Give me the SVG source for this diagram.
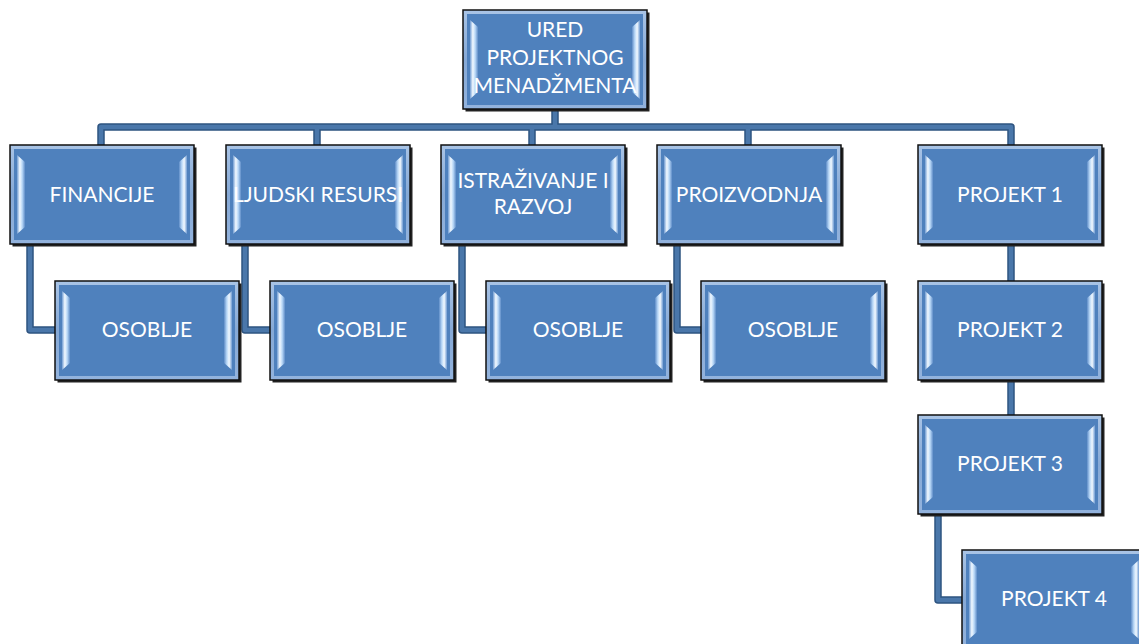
<svg xmlns="http://www.w3.org/2000/svg" xmlns:xlink="http://www.w3.org/1999/xlink" width="1139" height="644" viewBox="0 0 1139 644">
<style>
.lbl{font-family:Lato,"Liberation Sans",sans-serif;font-size:21px;fill:#ffffff;text-anchor:middle}
.cOut{fill:none;stroke:#2e5480;stroke-width:7.5;stroke-linejoin:round}
.cIn{fill:none;stroke:#4a77aa;stroke-width:4.5;stroke-linejoin:round}
</style>
<defs>
<linearGradient id="frame" x1="0" y1="0" x2="0" y2="1">
<stop offset="0" stop-color="#a9c4e6"/>
<stop offset="0.5" stop-color="#86a9d6"/>
<stop offset="1" stop-color="#93b3dd"/>
</linearGradient>
<linearGradient id="stripL" x1="0" y1="0" x2="1" y2="0">
<stop offset="0" stop-color="#6f9bd2"/>
<stop offset="0.35" stop-color="#f2f9ff"/>
<stop offset="0.65" stop-color="#b9d8f7"/>
<stop offset="1" stop-color="#5f8dc8"/>
</linearGradient>
<linearGradient id="stripR" x1="1" y1="0" x2="0" y2="0">
<stop offset="0" stop-color="#6f9bd2"/>
<stop offset="0.35" stop-color="#f2f9ff"/>
<stop offset="0.65" stop-color="#b9d8f7"/>
<stop offset="1" stop-color="#5f8dc8"/>
</linearGradient>
<g id="box">
<rect x="2.5" y="2.5" width="184" height="99" fill="#222222"/>
<rect x="0" y="0" width="184" height="99" fill="url(#frame)" stroke="#111111" stroke-width="1.5"/>
<rect x="4" y="4" width="176" height="91" fill="#4f81bd"/>
<polygon points="7,10 15,17 15,82 7,89" fill="url(#stripL)"/>
<polygon points="177,10 169,17 169,82 177,89" fill="url(#stripR)"/>
</g>
</defs>
<rect width="1139" height="644" fill="#ffffff"/>
<g id="connectors">
<path class="cOut" d="M555 108 V127 M101 145 V127 H1011 V145 M317 127 V145 M532 127 V145 M748 127 V145 M30 244 V330 H55 M245 244 V330 H270 M462 244 V330 H486 M677 244 V330 H701 M1011 244 V281 M1011 380 V415 M938 514 V600 H962"/>
<path class="cIn" d="M555 108 V127 M101 145 V127 H1011 V145 M317 127 V145 M532 127 V145 M748 127 V145 M30 244 V330 H55 M245 244 V330 H270 M462 244 V330 H486 M677 244 V330 H701 M1011 244 V281 M1011 380 V415 M938 514 V600 H962"/>
</g>
<g id="node-ured" transform="translate(463,10)">
<use xlink:href="#box" href="#box"/>
<text class="lbl" x="92" y="27">URED</text>
<text class="lbl" x="92" y="55">PROJEKTNOG</text>
<text class="lbl" x="92" y="83">MENADŽMENTA</text>
</g>
<g id="node-financije" transform="translate(10,145)">
<use xlink:href="#box" href="#box"/>
<text class="lbl" x="92" y="57">FINANCIJE</text>
</g>
<g id="node-ljudski" transform="translate(226,145)">
<use xlink:href="#box" href="#box"/>
<text class="lbl" x="92" y="57">LJUDSKI RESURSI</text>
</g>
<g id="node-istrazivanje" transform="translate(441,145)">
<use xlink:href="#box" href="#box"/>
<text class="lbl" x="92" y="43">ISTRAŽIVANJE I</text>
<text class="lbl" x="92" y="69">RAZVOJ</text>
</g>
<g id="node-proizvodnja" transform="translate(657,145)">
<use xlink:href="#box" href="#box"/>
<text class="lbl" x="92" y="57">PROIZVODNJA</text>
</g>
<g id="node-projekt1" transform="translate(918,145)">
<use xlink:href="#box" href="#box"/>
<text class="lbl" x="92" y="57">PROJEKT 1</text>
</g>
<g id="node-osoblje1" transform="translate(55,281)">
<use xlink:href="#box" href="#box"/>
<text class="lbl" x="92" y="56">OSOBLJE</text>
</g>
<g id="node-osoblje2" transform="translate(270,281)">
<use xlink:href="#box" href="#box"/>
<text class="lbl" x="92" y="56">OSOBLJE</text>
</g>
<g id="node-osoblje3" transform="translate(486,281)">
<use xlink:href="#box" href="#box"/>
<text class="lbl" x="92" y="56">OSOBLJE</text>
</g>
<g id="node-osoblje4" transform="translate(701,281)">
<use xlink:href="#box" href="#box"/>
<text class="lbl" x="92" y="56">OSOBLJE</text>
</g>
<g id="node-projekt2" transform="translate(918,281)">
<use xlink:href="#box" href="#box"/>
<text class="lbl" x="92" y="56">PROJEKT 2</text>
</g>
<g id="node-projekt3" transform="translate(918,415)">
<use xlink:href="#box" href="#box"/>
<text class="lbl" x="92" y="56">PROJEKT 3</text>
</g>
<g id="node-projekt4" transform="translate(962,550)">
<use xlink:href="#box" href="#box"/>
<text class="lbl" x="92" y="56">PROJEKT 4</text>
</g>
</svg>
